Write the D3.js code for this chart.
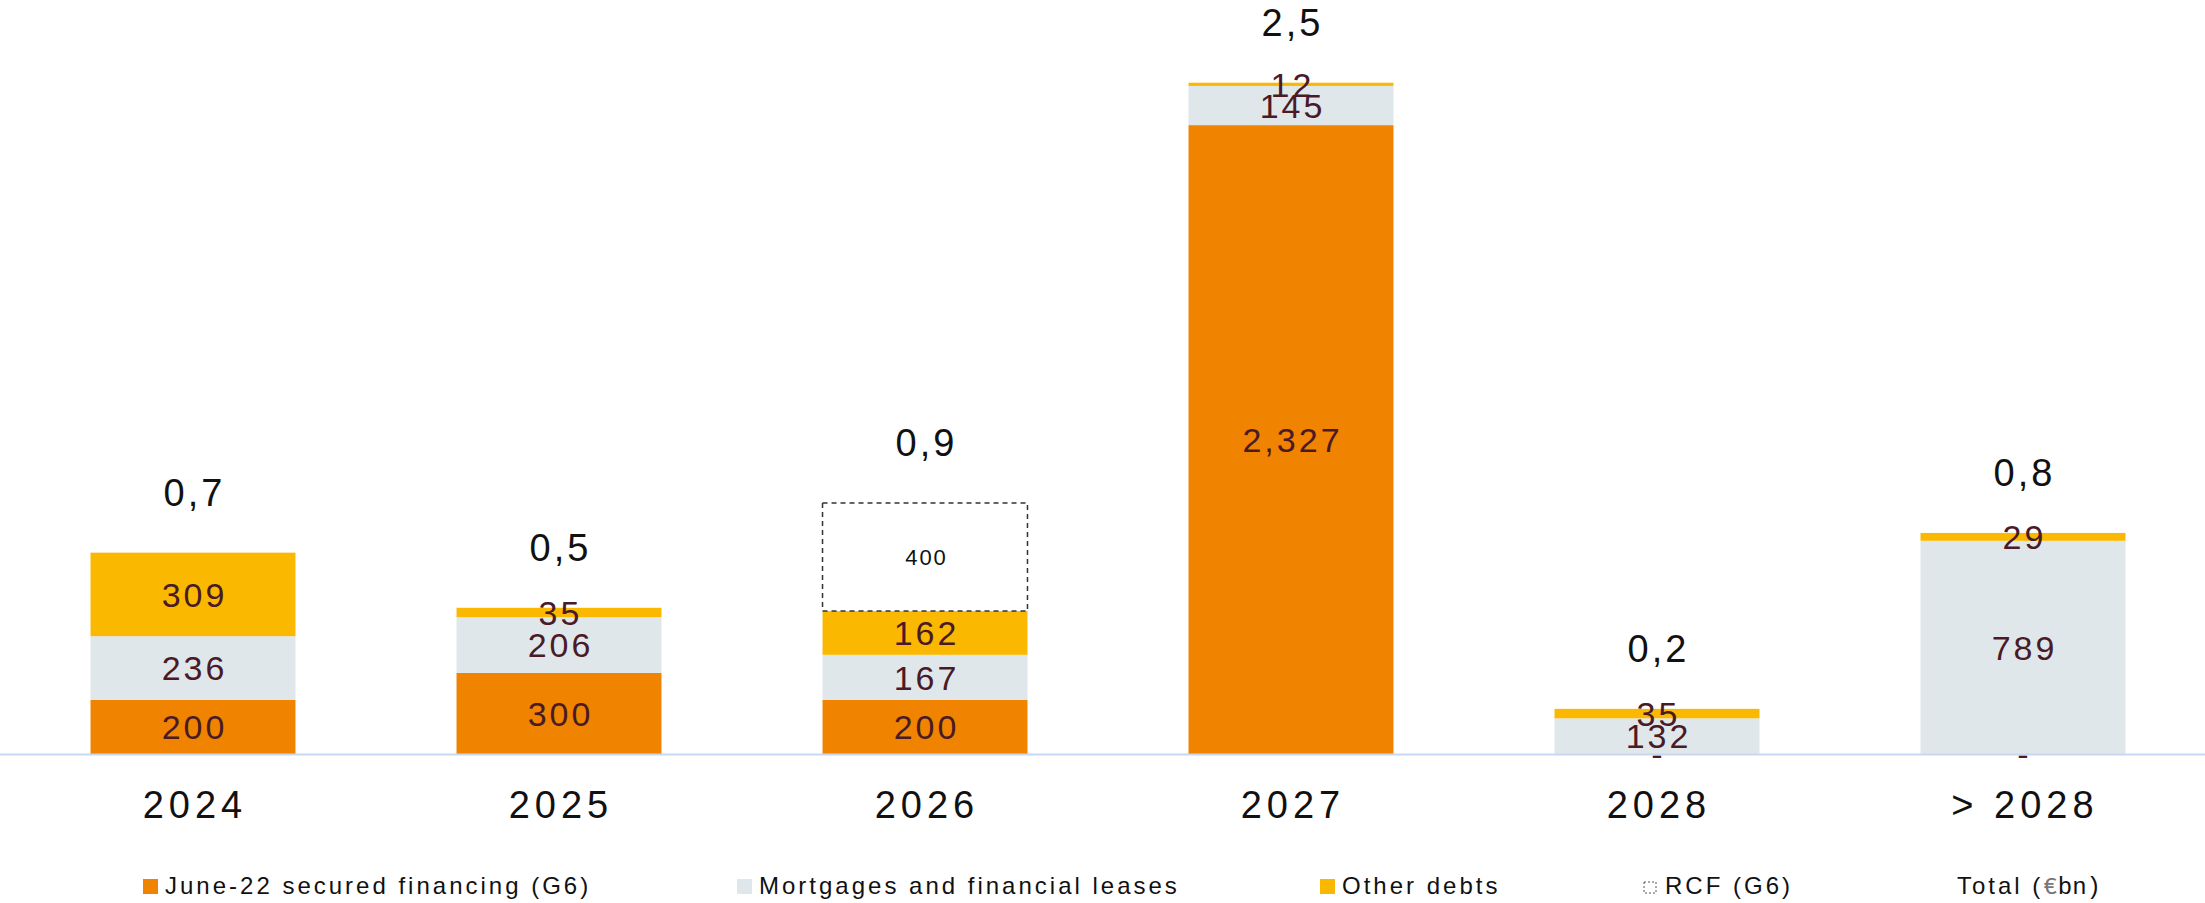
<!DOCTYPE html>
<html>
<head>
<meta charset="utf-8">
<script src="https://cdn.jsdelivr.net/npm/d3@7"></script>
<style>
  html, body { margin: 0; padding: 0; background: #fff; }
  svg { display: block; font-family: "Liberation Sans", Arial, sans-serif; }
</style>
</head>
<body>
<svg id="chart" width="2205" height="903"></svg>
<script>
// Debt maturity profile (€m), stacked by type
const categories = ["2024", "2025", "2026", "2027", "2028", "> 2028"];
const juneSecured = [200, 300, 200, 2327, 0, 0];
const mortgages = [236, 206, 167, 145, 132, 789];
const otherDebts = [309, 35, 162, 12, 35, 29];
const rcf = [0, 0, 400, 0, 0, 0];
const totalLabels = ["0,7", "0,5", "0,9", "2,5", "0,2", "0,8"];

const seriesKeys = ["june", "mortgages", "other", "rcf"];
const seriesNames = {
  june: "June-22 secured financing (G6)",
  mortgages: "Mortgages and financial leases",
  other: "Other debts",
  rcf: "RCF (G6)"
};
const colors = {
  june: "#f08300",
  mortgages: "#e0e7ea",
  other: "#fbb800",
  rcf: "#ffffff"
};

const W = 2205, H = 903;
const baseY = 754;
const labelColor = "#4a1a26";

const rows = categories.map((c, i) => ({
  cat: c,
  june: juneSecured[i],
  mortgages: mortgages[i],
  other: otherDebts[i],
  rcf: rcf[i],
  total: totalLabels[i]
}));

const svg = d3.select("#chart");

const x = d3.scaleBand()
  .domain(categories)
  .range([10, W + 1])
  .paddingInner(0.44)
  .paddingOuter(0.22);

const y = d3.scaleLinear()
  .domain([0, 2500])
  .range([baseY, baseY - 2500 * 0.27025]);

const stacked = d3.stack().keys(seriesKeys)(rows);

// bars
const layers = svg.selectAll("g.layer")
  .data(stacked)
  .join("g")
  .attr("class", "layer");

layers.selectAll("rect")
  .data(s => s.map(d => ({ key: s.key, d })))
  .join("rect")
  .filter(p => p.d[1] - p.d[0] > 0)
  .attr("x", p => x(p.d.data.cat))
  .attr("y", p => y(p.d[1]))
  .attr("width", x.bandwidth())
  .attr("height", p => y(p.d[0]) - y(p.d[1]))
  .attr("fill", p => colors[p.key])
  .attr("stroke", p => p.key === "rcf" ? "#333" : "none")
  .attr("stroke-width", p => p.key === "rcf" ? 1.5 : 0)
  .attr("stroke-dasharray", p => p.key === "rcf" ? "5,4" : null);

// axis line
svg.append("line")
  .attr("x1", 0).attr("x2", W)
  .attr("y1", baseY + 0.5).attr("y2", baseY + 0.5)
  .attr("stroke", "#c9d8f2")
  .attr("stroke-width", 2);

// segment labels
layers.selectAll("text")
  .data(s => s.map(d => ({ key: s.key, d })))
  .join("text")
  .filter(p => !(p.key === "rcf" && p.d[1] - p.d[0] === 0))
  .attr("x", p => x(p.d.data.cat) + x.bandwidth() / 2 + 1.5)
  .attr("y", p => (y(p.d[0]) + y(p.d[1])) / 2)
  .attr("dy", "0.36em")
  .attr("text-anchor", "middle")
  .attr("font-size", p => p.key === "rcf" ? 22 : 34)
  .attr("letter-spacing", p => p.key === "rcf" ? 2 : 3)
  .attr("fill", p => p.key === "rcf" ? "#111" : labelColor)
  .text(p => {
    const v = p.d[1] - p.d[0];
    return v === 0 ? "-" : d3.format(",")(v);
  });

// totals above each stack
svg.append("g")
  .selectAll("text")
  .data(rows)
  .join("text")
  .attr("x", d => x(d.cat) + x.bandwidth() / 2 + 1.5)
  .attr("y", d => y(d.june + d.mortgages + d.other + d.rcf) - 47)
  .attr("text-anchor", "middle")
  .attr("font-size", 38)
  .attr("letter-spacing", 3)
  .attr("fill", "#111")
  .text(d => d.total);

// category labels
svg.append("g")
  .selectAll("text")
  .data(categories)
  .join("text")
  .attr("x", d => x(d) + x.bandwidth() / 2 + 2)
  .attr("y", 818)
  .attr("text-anchor", "middle")
  .attr("font-size", 38)
  .attr("letter-spacing", 5)
  .attr("fill", "#111")
  .text(d => d);

// legend
const legendX = [143, 737, 1320, 1643];
const legend = svg.append("g").attr("font-size", 24).attr("letter-spacing", 3);
seriesKeys.forEach((k, i) => {
  const g = legend.append("g").attr("transform", `translate(${legendX[i]},0)`);
  if (k === "rcf") {
    g.append("rect")
      .attr("x", 1).attr("y", 882).attr("width", 12).attr("height", 11)
      .attr("fill", "#fff").attr("stroke", "#555")
      .attr("stroke-width", 1).attr("stroke-dasharray", "2,2");
  } else {
    g.append("rect")
      .attr("x", 0).attr("y", 879).attr("width", 15).attr("height", 15)
      .attr("fill", colors[k]);
  }
  g.append("text")
    .attr("x", k === "rcf" ? 22 : 22)
    .attr("y", 894)
    .attr("fill", "#111")
    .text(seriesNames[k]);
});

const totalLegend = legend.append("text")
  .attr("x", 1957).attr("y", 894).attr("fill", "#111");
totalLegend.append("tspan").text("Total (");
totalLegend.append("tspan")
  .attr("font-family", "'Liberation Mono', monospace")
  .attr("letter-spacing", 0)
  .attr("fill", "#777")
  .text("€");
totalLegend.append("tspan")
  .attr("font-family", "'Liberation Mono', monospace")
  .attr("letter-spacing", 0)
  .text("bn)");
</script>
</body>
</html>
